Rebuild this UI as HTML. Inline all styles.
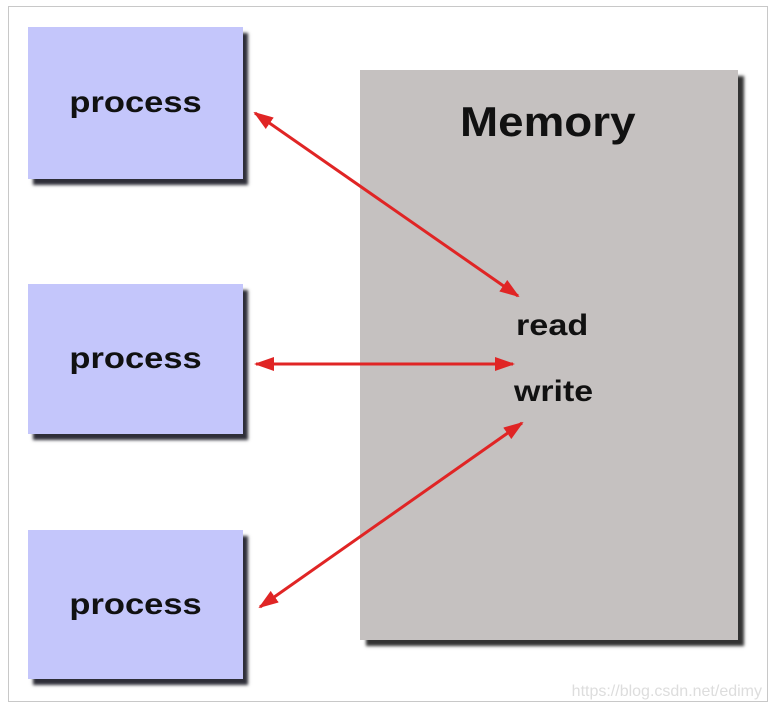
<!DOCTYPE html>
<html><head><style>
body{margin:0;width:776px;height:720px;background:#fff;position:relative;overflow:hidden;font-family:"Liberation Sans",Arial,sans-serif}
.frame{position:absolute;left:8px;top:6px;width:760px;height:696px;border:1px solid #c8c8c8;box-sizing:border-box}
.box{position:absolute;background:#c4c6fb;box-shadow:5px 6px 3px #2e2e38;font-weight:bold;font-size:30px;color:#111;display:flex;align-items:center;justify-content:center}
.box span{display:inline-block;transform:scaleX(1.15)}
.mem{position:absolute;left:360px;top:70px;width:378px;height:570px;background:#c5c1c0;box-shadow:6px 6px 3px #333}
.t{position:absolute;font-weight:bold;color:#111;transform-origin:0 0}
.wm{position:absolute;right:14px;bottom:19px;color:#ddd;font-size:16px}
</style></head><body>
<div class="frame"></div>
<div class="box" style="left:28px;top:27px;width:215px;height:152px"><span>process</span></div>
<div class="box" style="left:28px;top:284px;width:215px;height:150px"><span>process</span></div>
<div class="box" style="left:28px;top:530px;width:215px;height:149px"><span>process</span></div>
<div class="mem"></div>
<div class="t" style="left:460px;top:98px;font-size:42px;transform:scaleX(1.09)">Memory</div>
<div class="t" style="left:516px;top:309px;font-size:30px;transform:scaleX(1.14)">read</div>
<div class="t" style="left:514px;top:375px;font-size:30px;transform:scaleX(1.13)">write</div>
<svg width="776" height="720" style="position:absolute;left:0;top:0">
<defs><marker id="a" markerWidth="20" markerHeight="14" refX="18" refY="7" orient="auto-start-reverse" markerUnits="userSpaceOnUse" viewBox="0 0 20 14"><path d="M0,0 L20,7 L0,14 Z" fill="#e02525"/></marker></defs>
<g stroke="#e02525" stroke-width="3" fill="none">
<line x1="255" y1="113" x2="518" y2="296" marker-start="url(#a)" marker-end="url(#a)"/>
<line x1="256" y1="364" x2="513" y2="364" marker-start="url(#a)" marker-end="url(#a)"/>
<line x1="260" y1="607" x2="522" y2="423" marker-start="url(#a)" marker-end="url(#a)"/>
</g></svg>
<div class="wm">https://blog.csdn.net/edimy</div>
</body></html>
